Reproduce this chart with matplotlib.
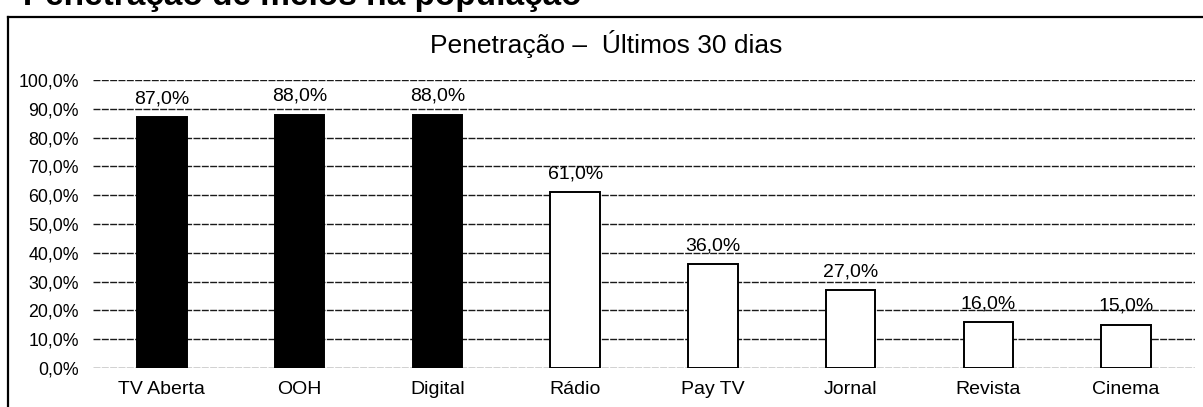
import matplotlib.pyplot as plt
import numpy as np
from matplotlib.lines import Line2D

plt.rcParams['font.family'] = ['Liberation Sans', 'DejaVu Sans']

# dados do gráfico
categorias = ['TV Aberta', 'OOH', 'Digital', 'Rádio', 'Pay TV', 'Jornal', 'Revista', 'Cinema']
penetracao = [87.0, 88.0, 88.0, 61.0, 36.0, 27.0, 16.0, 15.0]
cores = ['black', 'black', 'black', 'white', 'white', 'white', 'white', 'white']
yticks = [0, 10, 20, 30, 40, 50, 60, 70, 80, 90, 100]

fig = plt.figure(figsize=(12.03, 4.07), dpi=100, facecolor='white')
ax = fig.add_axes([0.0773, 0.0958, 0.9161, 0.7076])

x = np.arange(len(categorias))
ax.bar(x, penetracao, width=0.36, color=cores, edgecolor='black', linewidth=1.4, zorder=3)

# rótulos de valor acima das barras
for xi, v in zip(x, penetracao):
    ax.annotate(f'{v:.1f}%'.replace('.', ','), (xi, v), xytext=(0, 10),
                textcoords='offset points', ha='center', va='baseline', fontsize=14)

ax.set_xlim(-0.5, len(categorias) - 0.5)
ax.set_ylim(0, 100)
ax.set_yticks(yticks)
ax.set_yticklabels([f'{t:.1f}%'.replace('.', ',') for t in yticks], fontsize=12.8)
ax.set_xticks(x)
ax.set_xticklabels(categorias, fontsize=14)
ax.tick_params(axis='both', length=0)
ax.tick_params(axis='y', pad=10)
ax.tick_params(axis='x', pad=9)

# linhas de grade
ax.grid(axis='y', color='#1a1a1a', linestyle=(0, (5, 1)), linewidth=1.0, zorder=0)
ax.set_axisbelow(True)
for s in ax.spines.values():
    s.set_visible(False)

# título
fig.text(0.504, 0.87, 'Penetração –  Últimos 30 dias', ha='center', va='baseline', fontsize=19)

# moldura da caixa
fig.add_artist(Line2D([8 / 1203, 1.0], [0.958, 0.958], color='black', linewidth=1.6))
fig.add_artist(Line2D([8 / 1203, 8 / 1203], [0.0, 0.958], color='black', linewidth=1.6))

# título da página (cortado no topo, como na imagem original)
fig.text(0.002, 0.988, '• Penetração de meios na população', ha='left', va='baseline',
         fontsize=24, fontweight='bold')

fig.savefig('out.png', dpi=100, facecolor='white')
